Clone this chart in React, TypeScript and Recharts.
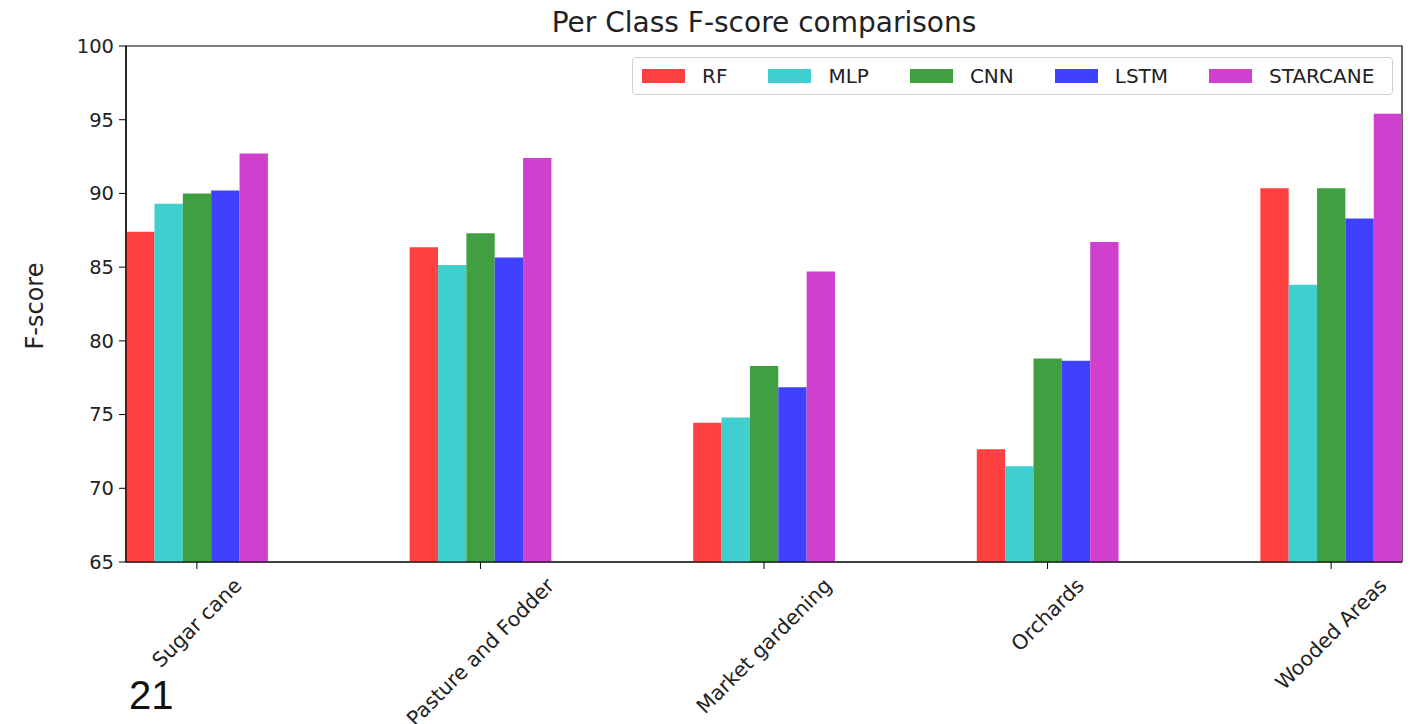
import React from 'react';
import { BarChart, Bar, XAxis, YAxis, ReferenceArea } from 'recharts';

// Class names along the x axis
const categories = ['Sugar cane', 'Pasture and Fodder', 'Market gardening', 'Orchards', 'Wooded Areas'];

// Per-class F-scores for each model
const rfScores = [87.4, 86.35, 74.45, 72.65, 90.35];
const mlpScores = [89.3, 85.15, 74.8, 71.5, 83.8];
const cnnScores = [90.0, 87.3, 78.3, 78.8, 90.35];
const lstmScores = [90.2, 85.65, 76.85, 78.65, 88.3];
const starcaneScores = [92.7, 92.4, 84.7, 86.7, 95.4];

const yTicks = [65, 70, 75, 80, 85, 90, 95, 100];
const categoryIndex = [0, 1, 2, 3, 4];

const series = [
  { key: 'RF', values: rfScores, color: '#FF4040' },
  { key: 'MLP', values: mlpScores, color: '#40CFCF' },
  { key: 'CNN', values: cnnScores, color: '#409F40' },
  { key: 'LSTM', values: lstmScores, color: '#4040FF' },
  { key: 'STARCANE', values: starcaneScores, color: '#CF40CF' },
];

const data = categories.map((name, i) => {
  const row: Record<string, number | string> = { idx: categoryIndex[i], name };
  series.forEach((s) => {
    row[s.key] = s.values[i];
  });
  return row;
});

const W = 1411;
const H = 724;
const PLOT_LEFT = 126;
const PLOT_RIGHT = 1402;
const PLOT_TOP = 46;
const PLOT_BOTTOM = 562;
const Y_AXIS_W = 60;
const X_AXIS_H = 30;
const FONT = '"DejaVu Sans", sans-serif';
const Y_TICK_FS = 19.5;
const X_TICK_FS = 20.5;
const LEGEND_FS = 20;
const X_MIN = -0.25;
const X_MAX = 4.25;
const BAR_W = ((PLOT_RIGHT - PLOT_LEFT) / (X_MAX - X_MIN)) * 0.1;

let measureCtx: CanvasRenderingContext2D | null = null;
function textWidth(text: string, size: number): number {
  if (!measureCtx) {
    const c = document.createElement('canvas');
    measureCtx = c.getContext('2d');
  }
  if (!measureCtx) return text.length * size * 0.6;
  measureCtx.font = `${size}px "DejaVu Sans"`;
  return measureCtx.measureText(text).width;
}

// Rotated category label, centred on its tick like a 45° matplotlib label
const RotatedTick = (props: any) => {
  const { x, y, payload } = props;
  const label = categories[payload.value] ?? '';
  const L = textWidth(label, X_TICK_FS);
  const h = X_TICK_FS * 0.95;
  const half = (L + h) / (2 * Math.SQRT2);
  const cx = x;
  const cy = y + half;
  return (
    <text
      x={cx}
      y={cy}
      textAnchor="middle"
      dominantBaseline="central"
      fontFamily={FONT}
      fontSize={X_TICK_FS}
      fill="#222"
      transform={`rotate(-45 ${cx} ${cy})`}
    >
      {label}
    </text>
  );
};

const LegendBox = () => (
  <div
    style={{
      position: 'absolute',
      left: 632,
      top: 57,
      boxSizing: 'border-box',
      width: 761,
      height: 38,
      border: '1px solid #d0d0d0',
      borderRadius: 4,
      background: '#fff',
      display: 'flex',
      alignItems: 'center',
      paddingLeft: 9,
      gap: 41,
      fontFamily: FONT,
      fontSize: LEGEND_FS,
      color: '#222',
    }}
  >
    {series.map((s) => (
      <div key={s.key} style={{ display: 'flex', alignItems: 'center' }}>
        <div style={{ width: 43, height: 14, background: s.color, marginRight: 17 }} />
        <span>{s.key}</span>
      </div>
    ))}
  </div>
);

export default function App() {
  return (
    <div style={{ position: 'absolute', left: 0, top: 0, width: W, height: H, background: '#fff' }}>
      <div
        style={{
          position: 'absolute',
          left: PLOT_LEFT,
          width: PLOT_RIGHT - PLOT_LEFT,
          top: 6,
          textAlign: 'center',
          fontFamily: FONT,
          fontSize: 28,
          color: '#222',
        }}
      >
        Per Class F-score comparisons
      </div>
      <div
        style={{
          position: 'absolute',
          left: 35,
          top: 306,
          transform: 'translate(-50%, -50%) rotate(-90deg)',
          fontFamily: FONT,
          fontSize: 24,
          color: '#222',
          whiteSpace: 'nowrap',
        }}
      >
        F-score
      </div>
      <BarChart
        width={W}
        height={H}
        data={data}
        barGap={0}
        barSize={BAR_W}
        margin={{
          top: PLOT_TOP,
          right: W - PLOT_RIGHT,
          left: PLOT_LEFT - Y_AXIS_W,
          bottom: H - PLOT_BOTTOM - X_AXIS_H,
        }}
      >
        <XAxis
          dataKey="idx"
          type="number"
          domain={[X_MIN, X_MAX]}
          ticks={categoryIndex}
          interval={0}
          height={X_AXIS_H}
          tickSize={7}
          tickMargin={6}
          tick={<RotatedTick />}
          axisLine={{ stroke: '#000', strokeWidth: 1.2 }}
          tickLine={{ stroke: '#000' }}
        />
        <YAxis
          type="number"
          domain={[65, 100]}
          ticks={yTicks}
          allowDataOverflow
          width={Y_AXIS_W}
          tickSize={7}
          tickMargin={5}
          tick={{ fontFamily: FONT, fontSize: Y_TICK_FS, fill: '#222' }}
          axisLine={{ stroke: '#000', strokeWidth: 1.2 }}
          tickLine={{ stroke: '#000' }}
        />
        {series.map((s) => (
          <Bar key={s.key} dataKey={s.key} fill={s.color} isAnimationActive={false} />
        ))}
        <ReferenceArea
          x1={X_MIN}
          x2={X_MAX}
          y1={65}
          y2={100}
          fill="none"
          fillOpacity={0}
          stroke="#000"
          strokeWidth={1.2}
          ifOverflow="visible"
        />
      </BarChart>
      <LegendBox />
      <div
        style={{
          position: 'absolute',
          left: 129,
          top: 673,
          fontFamily: '"Liberation Sans", Arial, sans-serif',
          fontSize: 40,
          color: '#111',
        }}
      >
        21
      </div>
    </div>
  );
}
